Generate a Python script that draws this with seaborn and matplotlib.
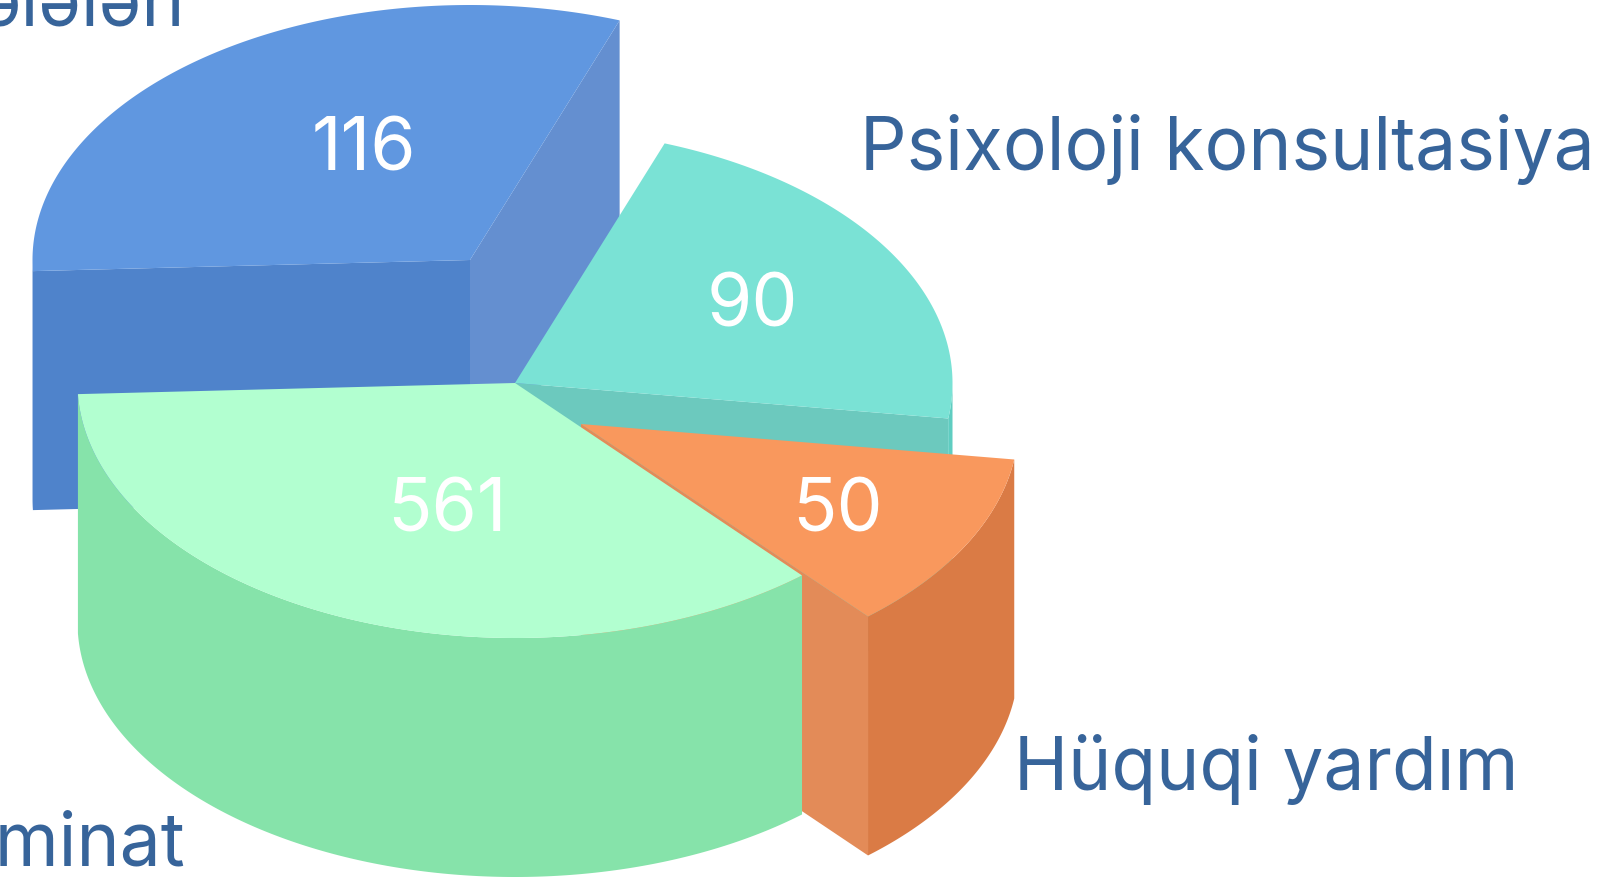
import numpy as np
import matplotlib
matplotlib.use('Agg')
import matplotlib.pyplot as plt
import seaborn as sns

# slices, anticlockwise from the left edge of the green one
values = [561, 50, 90, 116]
labels = ['Təminat', 'Hüquqi yardım', 'Psixoloji konsultasiya', 'ələlən']
# the 3D slices are not proportional to the values, these are read from the picture
spans = [128.5, 41, 78, 112.5]
start_angle = 182.5

top_colors = sns.color_palette(['#B2FFD0', '#F9985D', '#7AE2D5', '#6097E0'])
side_colors = sns.color_palette(['#86E3AA', '#DA7B45', '#5FCDC1', '#4F83CB'])
cut_colors = sns.color_palette(['#86E3AA', '#E38B58', '#6CC9BE', '#648FD0'])
label_color = '#37649A'

centers = [(515, 383), (581, 424), (515, 383), (470, 260)]
number_pos = [(447, 512), (837, 512), (752, 307), (364, 151)]
label_pos = [(185, 866, 'right'), (1014, 790, 'left'), (860, 170, 'left'), (185, 25, 'right')]
rx, ry, depth = 437.5, 255, 239

sns.set_theme(style='white')
plt.rcParams['font.family'] = ['Inter', 'DejaVu Sans']

fig = plt.figure(figsize=(16.14, 8.86), dpi=100)
ax = fig.add_axes([0, 0, 1, 1])
ax.set_xlim(0, 1614)
ax.set_ylim(886, 0)
ax.axis('off')


def rim(center, a0, a1):
    # screen y goes down, so angle goes up with -sin
    t = np.radians(np.linspace(a0, a1, 200))
    return center[0] + rx * np.cos(t), center[1] - ry * np.sin(t)


def cut_face(center, angle, color, z):
    x, y = rim(center, angle, angle)
    ax.fill([center[0], x[0], x[0], center[0]],
            [center[1], y[0], y[0] + depth, center[1] + depth],
            color=color, lw=0, zorder=z)


def outer_face(center, a0, a1, color, z):
    x, y = rim(center, a0, a1)
    ax.fill(np.r_[x, x[::-1]], np.r_[y, y[::-1] + depth], color=color, lw=0, zorder=z)


def top_face(center, a0, a1, color, z):
    x, y = rim(center, a0, a1)
    ax.fill(np.r_[center[0], x], np.r_[center[1], y], color=color, lw=0, zorder=z)


edges = start_angle + np.cumsum([0] + spans)
green = (edges[0], edges[1])
orange = (edges[1], edges[2])
cyan = (edges[2], edges[3])
blue = (edges[3], edges[4])

# back to front: blue, cyan, orange, green
cut_face(centers[3], blue[0], cut_colors[3], 1)
cut_face(centers[3], blue[1], side_colors[3], 1)
outer_face(centers[3], 540, blue[1], side_colors[3], 1)
top_face(centers[3], blue[0], blue[1], top_colors[3], 2)

cut_face(centers[2], cyan[0], cut_colors[2], 3)
outer_face(centers[2], cyan[0], 360, side_colors[2], 3)
top_face(centers[2], cyan[0], cyan[1], top_colors[2], 4)

cut_face(centers[1], orange[0], cut_colors[1], 5)
outer_face(centers[1], orange[0], orange[1], side_colors[1], 5)
top_face(centers[1], orange[0], orange[1], top_colors[1], 6)

outer_face(centers[0], green[0], green[1], side_colors[0], 7)
top_face(centers[0], green[0], green[1], top_colors[0], 8)

for v, (x, y) in zip(values, number_pos):
    ax.text(x, y, str(v), color='white', fontsize=52.6, fontweight='normal',
            ha='center', va='center', zorder=10)

for lab, (x, y, ha) in zip(labels, label_pos):
    ax.text(x, y, lab, color=label_color, fontsize=52.6, ha=ha, va='baseline', zorder=10)

fig.savefig('out.png', dpi=100)
